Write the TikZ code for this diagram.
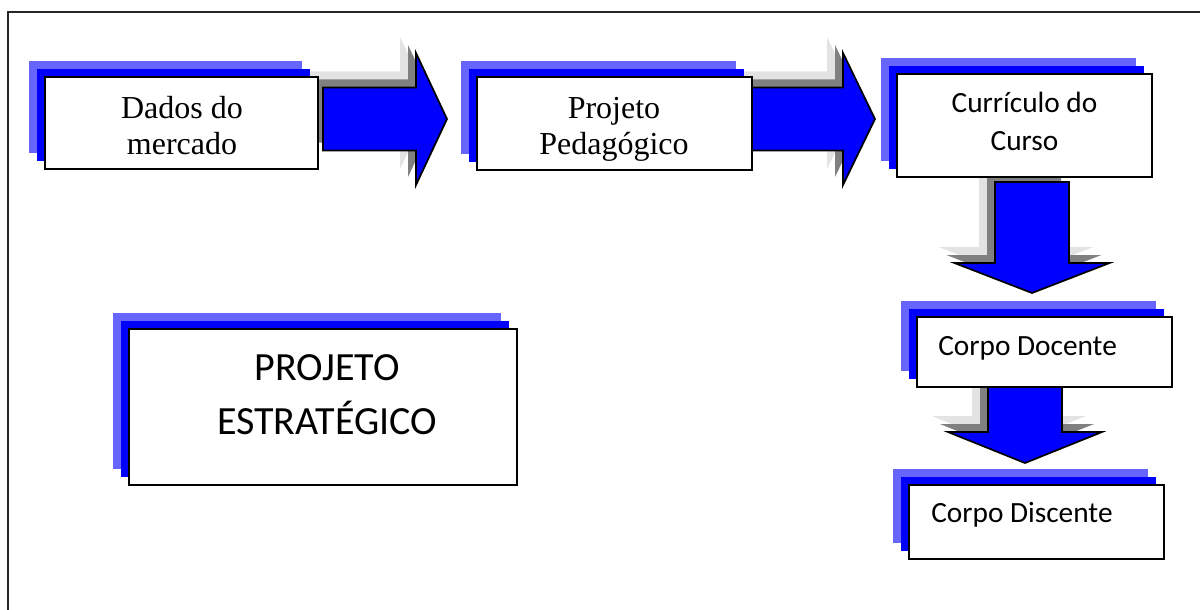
\documentclass[tikz,border=0pt]{standalone}
\usepackage{fontspec}
\setmainfont{Liberation Serif}
\newfontfamily\calib{Carlito}
\definecolor{lblue}{HTML}{6666FF}
\definecolor{dblue}{HTML}{0000FF}
\definecolor{sgray}{HTML}{808080}
\definecolor{lgray}{HTML}{E3E3E3}
\tikzset{
  whitebox/.style={draw=black, fill=white, line width=1.1pt, rectangle, inner sep=0pt},
  arrowbody/.style={fill=dblue, draw=black, line width=1.3pt, line join=miter},
  frameline/.style={draw=black!85, line width=1.5pt},
  serifText/.style={font=\fontsize{24}{27}\selectfont, anchor=base, inner sep=0pt},
  sansText/.style={font=\calib\fontsize{22}{26}\selectfont, anchor=base, inner sep=0pt},
  bigText/.style={font=\calib\fontsize{30}{36}\selectfont, anchor=base, inner sep=0pt},
}
% box with two-step blue shadow: name, x0, y0, x1, y1 (pixels)
\newcommand\SBox[5]{%
  \fill[lblue] ({#2-16},{#3-16}) rectangle ({#4-16},{#5-16});
  \fill[dblue] ({#2-8},{#3-8}) rectangle ({#4-8},{#5-8});
  \node[whitebox, minimum width={(#4-#2)*0.75pt}, minimum height={(#5-#3)*0.75pt}] (#1) at ({(#2+#4)/2},{(#3+#5)/2}) {};
}
% right block arrow: shaft left, head base, tip, y centre, half shaft, half head
\newcommand\RArrow[6]{%
  \foreach \sh/\col in {12/lgray,6/sgray}{%
    \fill[\col, xshift=-\sh pt, yshift=\sh pt] (#1,{#4-#5}) -- (#2,{#4-#5}) -- (#2,{#4-#6}) -- (#3,#4) -- (#2,{#4+#6}) -- (#2,{#4+#5}) -- (#1,{#4+#5}) -- cycle;}
  \draw[arrowbody] (#1,{#4-#5}) -- (#2,{#4-#5}) -- (#2,{#4-#6}) -- (#3,#4) -- (#2,{#4+#6}) -- (#2,{#4+#5}) -- (#1,{#4+#5}) -- cycle;
}
% down block arrow: x centre, shaft top, head base, tip, half shaft, half head
\newcommand\DArrow[6]{%
  \foreach \sh/\col in {12/lgray,6/sgray}{%
    \fill[\col, xshift=-\sh pt, yshift=\sh pt] ({#1-#5},#2) -- ({#1+#5},#2) -- ({#1+#5},#3) -- ({#1+#6},#3) -- (#1,#4) -- ({#1-#6},#3) -- ({#1-#5},#3) -- cycle;}
  \draw[arrowbody] ({#1-#5},#2) -- ({#1+#5},#2) -- ({#1+#5},#3) -- ({#1+#6},#3) -- (#1,#4) -- ({#1-#6},#3) -- ({#1-#5},#3) -- cycle;
}
\begin{document}
\begin{tikzpicture}[x=0.75pt, y=-0.75pt]
\useasboundingbox (0,0) rectangle (1200,610);
\fill[white] (0,0) rectangle (1200,610);
\draw[frameline] (8,610) -- (8,12) -- (1200,12);

% block arrows
\RArrow{323}{416}{447}{119}{31.5}{66}
\RArrow{740}{843}{875}{119}{31.5}{66}
\DArrow{1032}{182}{263}{293}{37}{77.5}
\DArrow{1025}{375}{432}{463}{37}{77}

% boxes
\SBox{b1}{45}{77}{318}{169}
\SBox{b2}{477}{77}{752}{170}
\SBox{b3}{897}{74}{1152}{177}
\SBox{b4}{917}{317}{1172}{387}
\SBox{b5}{909}{485}{1164}{559}
\SBox{b6}{129}{329}{517}{485}

% texts
\node[serifText] (t1a) at (182,118) {Dados do};
\node[serifText] (t1b) at (182,154) {mercado};
\node[serifText] (t2a) at (614,118) {Projeto};
\node[serifText] (t2b) at (614,154) {Pedagógico};
\node[sansText] (t3a) at (1024.5,113) {Currículo do};
\node[sansText] (t3b) at (1024.5,151) {Curso};
\node[sansText, anchor=base west] (t4) at (938,355) {Corpo Docente};
\node[sansText, anchor=base west] (t5) at (931,522) {Corpo Discente};
\node[bigText] (t6a) at (327,380) {PROJETO};
\node[bigText] (t6b) at (327,434) {ESTRATÉGICO};
\end{tikzpicture}
\end{document}
